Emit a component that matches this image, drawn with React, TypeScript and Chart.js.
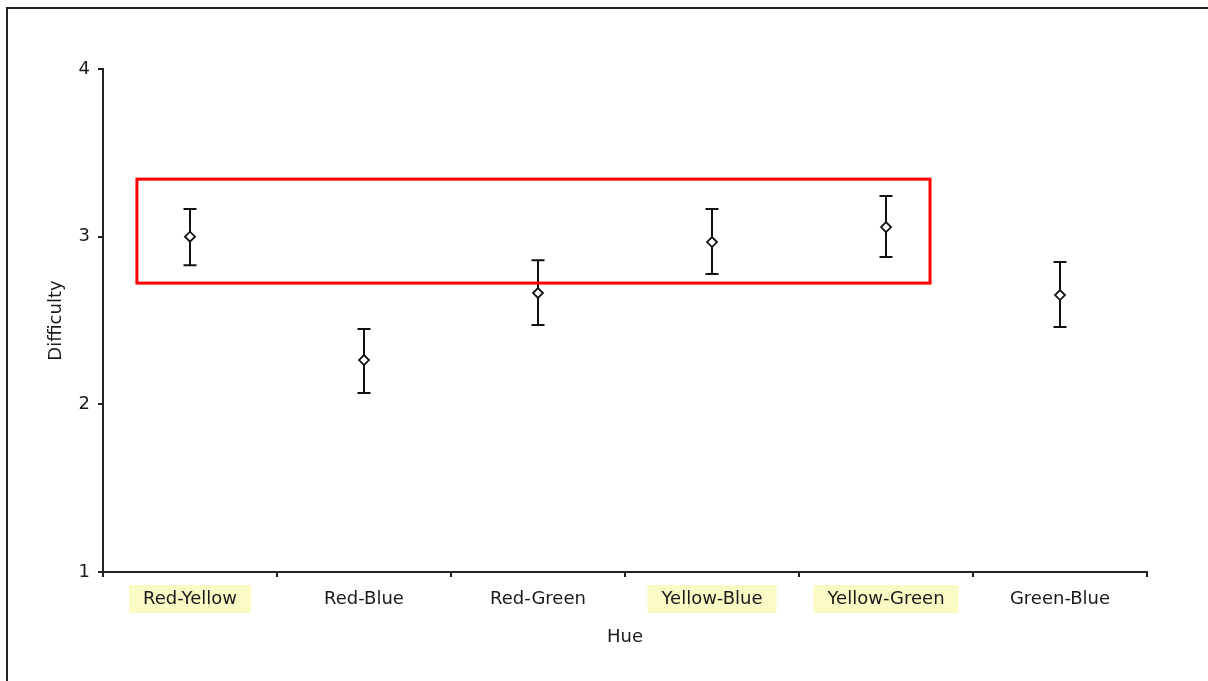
import React, { useEffect, useRef } from "react";
import { Chart, registerables } from "chart.js";

Chart.register(...registerables);

const categories = ["Red-Yellow", "Red-Blue", "Red-Green", "Yellow-Blue", "Yellow-Green", "Green-Blue"];
const means = [3.0, 2.264, 2.664, 2.968, 3.057, 2.652];
const upper = [3.165, 2.449, 2.86, 3.165, 3.242, 2.849];
const lower = [2.83, 2.067, 2.473, 2.777, 2.878, 2.461];
const highlighted = ["Red-Yellow", "Yellow-Blue", "Yellow-Green"];
const yTicks = [1, 2, 3, 4];
// highlight rectangle in data units: [xStart, xEnd] (category index), [yLow, yHigh]
const boxX = [-0.305, 4.253];
const boxY = [2.723, 3.343];

const FONT = "'DejaVu Sans', sans-serif";
const TEXT = "#1a1a1a";
const SIZE = 18;

const decorPlugin = {
  id: "decor",
  beforeDraw(chart: any) {
    const ctx = chart.ctx;
    const xs = chart.scales.x;
    ctx.save();
    ctx.font = `${SIZE}px ${FONT}`;
    categories.forEach((c, i) => {
      if (!highlighted.includes(c)) return;
      const cx = xs.getPixelForValue(i);
      const w = ctx.measureText(c).width + 28;
      ctx.fillStyle = "#fafac4";
      ctx.fillRect(cx - w / 2, 585, w, 28);
    });
    ctx.restore();
  },
  beforeDatasetsDraw(chart: any) {
    const ctx = chart.ctx;
    const xs = chart.scales.x;
    const ys = chart.scales.y;
    ctx.save();
    ctx.strokeStyle = "#111";
    ctx.lineWidth = 2;
    means.forEach((_, i) => {
      const x = xs.getPixelForValue(i);
      const yt = ys.getPixelForValue(upper[i]);
      const yb = ys.getPixelForValue(lower[i]);
      ctx.beginPath();
      ctx.moveTo(x, yt);
      ctx.lineTo(x, yb);
      ctx.moveTo(x - 6.5, yt);
      ctx.lineTo(x + 6.5, yt);
      ctx.moveTo(x - 6.5, yb);
      ctx.lineTo(x + 6.5, yb);
      ctx.stroke();
    });
    ctx.restore();
  },
  afterDraw(chart: any) {
    const ctx = chart.ctx;
    const xs = chart.scales.x;
    const ys = chart.scales.y;
    const x0 = xs.getPixelForValue(boxX[0]);
    const x1 = xs.getPixelForValue(boxX[1]);
    const y0 = ys.getPixelForValue(boxY[1]);
    const y1 = ys.getPixelForValue(boxY[0]);
    ctx.save();
    ctx.strokeStyle = "#ff0000";
    ctx.lineWidth = 3;
    ctx.strokeRect(x0, y0, x1 - x0, y1 - y0);
    ctx.restore();
  },
};

export default function App() {
  const ref = useRef<HTMLCanvasElement>(null);
  useEffect(() => {
    document.body.style.margin = "0";
    const chart = new Chart(ref.current as HTMLCanvasElement, {
      type: "line",
      data: {
        labels: categories,
        datasets: [
          {
            data: means,
            showLine: false,
            pointStyle: "rectRot",
            pointRadius: 5,
            pointBackgroundColor: "#ffffff",
            pointBorderColor: "#111111",
            pointBorderWidth: 1.8,
          },
        ],
      },
      options: {
        responsive: false,
        animation: false,
        devicePixelRatio: 1,
        layout: { padding: { left: 0, top: 69, right: 61, bottom: 0 } },
        plugins: { legend: { display: false }, tooltip: { enabled: false } },
        scales: {
          x: {
            type: "category",
            offset: true,
            grid: { offset: true, drawOnChartArea: false, drawTicks: true, tickLength: 5, color: "#222", lineWidth: 2 },
            border: { display: true, color: "#222", width: 2 },
            ticks: { color: TEXT, font: { family: FONT, size: SIZE }, padding: 12, maxRotation: 0, autoSkip: false },
            title: { display: true, text: "Hue", color: TEXT, font: { family: FONT, size: SIZE }, padding: { top: 0, bottom: 33 } },
            afterFit(scale: any) {
              scale.height = 109;
            },
          },
          y: {
            min: 1,
            max: 4,
            afterBuildTicks(scale: any) {
              scale.ticks = yTicks.map((v) => ({ value: v }));
            },
            grid: { drawOnChartArea: false, drawTicks: true, tickLength: 5, color: "#222", lineWidth: 2 },
            border: { display: true, color: "#222", width: 2 },
            ticks: { color: TEXT, font: { family: FONT, size: SIZE }, padding: 8 },
            title: { display: true, text: "Difficulty", color: TEXT, font: { family: FONT, size: SIZE }, padding: { top: 46, bottom: 0 } },
            afterFit(scale: any) {
              scale.width = 103;
            },
          },
        },
      },
      plugins: [decorPlugin],
    });
    return () => chart.destroy();
  }, []);
  return (
    <div style={{ position: "fixed", left: 0, top: 0, width: 1208, height: 681, background: "#fff" }}>
      <canvas ref={ref} width={1208} height={681} style={{ position: "absolute", left: 0, top: 0 }} />
      <div
        style={{
          position: "absolute",
          left: 6,
          top: 7,
          right: 0,
          bottom: 0,
          borderTop: "2px solid #222",
          borderLeft: "2px solid #222",
          pointerEvents: "none",
        }}
      />
    </div>
  );
}
